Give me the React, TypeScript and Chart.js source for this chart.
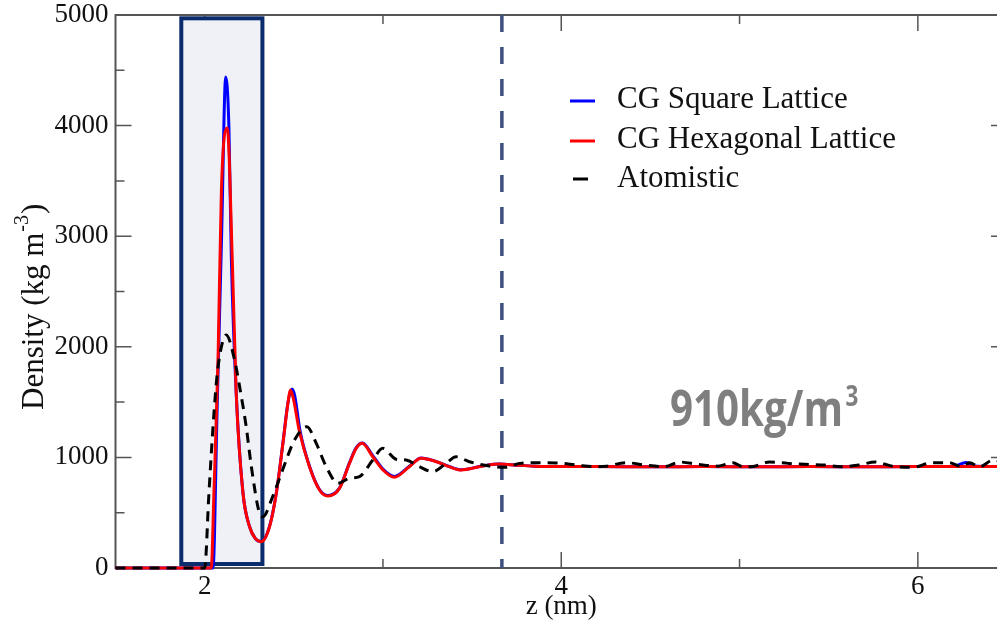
import React, { useEffect, useRef } from 'react';
import { Chart, registerables } from 'chart.js';

Chart.register(...registerables);

// ---- data (z in nm, density in kg m^-3) ----
const zSquare = [1.5, 2.0, 2.047, 2.07, 2.095, 2.118, 2.136, 2.15, 2.177, 2.215, 2.252, 2.285, 2.318, 2.364, 2.402, 2.439, 2.467, 2.49, 2.505, 2.535, 2.588, 2.644, 2.691, 2.756, 2.812, 2.85, 2.885, 2.945, 3.0, 3.064, 3.148, 3.214, 3.3, 3.372, 3.438, 3.56, 3.653, 3.75, 3.85, 3.95, 4.2, 4.5, 4.8, 5.1, 5.4, 5.7, 6.0, 6.2, 6.27, 6.33, 6.5];
const densSquare = [0, 0, 0, 1440, 3000, 4440, 3990, 2785, 1582, 678, 373, 265, 240, 378, 680, 1130, 1492, 1618, 1560, 1240, 920, 710, 655, 722, 950, 1088, 1130, 1012, 895, 828, 920, 995, 962, 918, 888, 924, 940, 930, 921, 917, 917, 916, 917, 916, 917, 916, 917, 918, 955, 920, 918];

const zHex = [1.5, 2.0, 2.037, 2.052, 2.075, 2.094, 2.127, 2.155, 2.177, 2.215, 2.252, 2.285, 2.318, 2.364, 2.402, 2.439, 2.467, 2.48, 2.495, 2.532, 2.588, 2.644, 2.691, 2.756, 2.812, 2.85, 2.883, 2.943, 3.0, 3.064, 3.148, 3.214, 3.3, 3.372, 3.438, 3.56, 3.653, 3.75, 3.85, 3.95, 4.2, 4.5, 4.8, 5.1, 5.4, 5.7, 6.0, 6.3, 6.5];
const densHex = [0, 0, 0, 678, 1880, 3418, 3978, 2785, 1582, 678, 373, 265, 238, 373, 675, 1127, 1489, 1609, 1549, 1232, 916, 705, 651, 720, 946, 1082, 1127, 1006, 886, 820, 916, 992, 961, 916, 886, 922, 940, 930, 921, 917, 917, 916, 917, 916, 917, 916, 917, 917, 918];

const zAtom = [1.5, 2.0, 2.024, 2.047, 2.069, 2.094, 2.121, 2.168, 2.196, 2.233, 2.262, 2.308, 2.327, 2.38, 2.437, 2.504, 2.573, 2.626, 2.682, 2.747, 2.812, 2.868, 2.943, 2.999, 3.074, 3.13, 3.204, 3.279, 3.354, 3.41, 3.485, 3.597, 3.69, 3.767, 3.883, 3.976, 4.088, 4.187, 4.253, 4.365, 4.468, 4.58, 4.664, 4.767, 4.879, 4.963, 5.019, 5.066, 5.169, 5.272, 5.365, 5.477, 5.571, 5.668, 5.762, 5.855, 5.973, 6.076, 6.173, 6.247, 6.29, 6.347, 6.421, 6.5];
const densAtom = [0, 0, 675, 1278, 1730, 2000, 2107, 1880, 1640, 1278, 916, 494, 464, 640, 886, 1157, 1278, 1127, 916, 766, 811, 826, 976, 1082, 983, 976, 916, 871, 946, 1006, 961, 922, 910, 946, 952, 950, 931, 916, 921, 952, 931, 916, 958, 937, 921, 952, 916, 916, 958, 946, 937, 931, 916, 931, 958, 921, 910, 952, 952, 916, 952, 916, 975, 940];

const seriesNames = ['CG Square Lattice', 'CG Hexagonal Lattice', 'Atomistic'];
const seriesColors = ['#0000ff', '#ff0000', '#000000'];

const xMajorTicks = [2, 4, 6];
const xMinorTicks = [3, 5];
const yMajorTicks = [0, 1000, 2000, 3000, 4000, 5000];
const yMinorTicks = [500, 1500, 2500, 3500, 4500];

const xTitle = 'z (nm)';
const yTitleMain = 'Density (kg m';
const yTitleSup = '-3';
const yTitleEnd = ')';

const boxZ = [1.869, 2.324];
const boxDensity = [36, 4970];
const cutoffZ = 3.667;
const bulkLabel = '910kg/m';
const bulkLabelSup = '3';

const SERIF = '"Liberation Serif", "Times New Roman", serif';

const pts = (zs: number[], ds: number[]) => zs.map((z, i) => ({ x: z, y: ds[i] }));

const decorPlugin = {
  id: 'decor',
  beforeDatasetsDraw(chart: any) {
    const { ctx, chartArea: a, scales } = chart;
    const x = scales.x, y = scales.y;
    ctx.save();
    ctx.strokeStyle = '#555';
    ctx.lineWidth = 2;
    ctx.strokeRect(a.left, a.top, a.right - a.left, a.bottom - a.top);
    const tick = (px: number, len: number, vertical: boolean) => {
      ctx.beginPath();
      if (vertical) {
        ctx.moveTo(px, a.bottom); ctx.lineTo(px, a.bottom - len);
        ctx.moveTo(px, a.top); ctx.lineTo(px, a.top + len);
      } else {
        ctx.moveTo(a.left, px); ctx.lineTo(a.left + len, px);
        ctx.moveTo(a.right, px); ctx.lineTo(a.right - len, px);
      }
      ctx.stroke();
    };
    ctx.lineWidth = 1.5;
    xMajorTicks.forEach(v => tick(x.getPixelForValue(v), 16, true));
    xMinorTicks.forEach(v => tick(x.getPixelForValue(v), 9, true));
    yMajorTicks.forEach(v => tick(y.getPixelForValue(v), 16, false));
    yMinorTicks.forEach(v => tick(y.getPixelForValue(v), 9, false));

    const bl = x.getPixelForValue(boxZ[0]);
    const br = x.getPixelForValue(boxZ[1]);
    const bt = y.getPixelForValue(boxDensity[1]);
    const bb = y.getPixelForValue(boxDensity[0]);
    ctx.fillStyle = '#eff1f7';
    ctx.fillRect(bl, bt, br - bl, bb - bt);
    ctx.strokeStyle = '#0b2c6c';
    ctx.lineWidth = 4;
    ctx.strokeRect(bl, bt, br - bl, bb - bt);

    const cx = x.getPixelForValue(cutoffZ);
    ctx.strokeStyle = '#3d5080';
    ctx.lineWidth = 3.5;
    ctx.setLineDash([17, 15]);
    ctx.beginPath();
    ctx.moveTo(cx, a.top);
    ctx.lineTo(cx, a.bottom);
    ctx.stroke();
    ctx.restore();
  },
  afterDatasetsDraw(chart: any) {
    const { ctx } = chart;
    ctx.save();
    ctx.font = '31px ' + SERIF;
    ctx.fillStyle = '#111';
    ctx.textAlign = 'left';
    ctx.textBaseline = 'alphabetic';
    const rows = [101, 141, 179];
    const bases = [108, 148, 187];
    seriesNames.forEach((n, i) => {
      ctx.strokeStyle = seriesColors[i];
      ctx.lineWidth = 3;
      ctx.beginPath();
      if (i < 2) { ctx.moveTo(570, rows[i]); ctx.lineTo(595, rows[i]); }
      else { ctx.moveTo(573, rows[i]); ctx.lineTo(588, rows[i]); }
      ctx.stroke();
      ctx.fillText(n, 617, bases[i]);
    });

    ctx.save();
    ctx.translate(43, 410);
    ctx.rotate(-Math.PI / 2);
    ctx.font = '31px ' + SERIF;
    ctx.fillStyle = '#111';
    ctx.fillText(yTitleMain, 0, 0);
    let w = ctx.measureText(yTitleMain).width;
    ctx.font = '20px ' + SERIF;
    ctx.fillText(yTitleSup, w + 1, -15);
    w += ctx.measureText(yTitleSup).width + 2;
    ctx.font = '31px ' + SERIF;
    ctx.fillText(yTitleEnd, w, 0);
    ctx.restore();

    ctx.save();
    ctx.fillStyle = '#7f7f7f';
    ctx.font = 'bold 50px "Open Sans", "Noto Sans", sans-serif';
    const mw = ctx.measureText(bulkLabel).width;
    const sx = 173 / mw;
    ctx.translate(670, 426);
    ctx.scale(sx, 1);
    ctx.fillText(bulkLabel, 0, 0);
    ctx.font = 'bold 28px "Open Sans", "Noto Sans", sans-serif';
    ctx.fillText(bulkLabelSup, mw + 3, -20);
    ctx.restore();

    ctx.restore();
  },
};

export default function App() {
  const ref = useRef<HTMLCanvasElement>(null);
  useEffect(() => {
    if (!ref.current) return;
    const tickFont = { family: SERIF, size: 27 };
    const chart = new Chart(ref.current, {
      type: 'line',
      data: {
        datasets: [
          { label: seriesNames[0], data: pts(zSquare, densSquare), borderColor: seriesColors[0], borderWidth: 3, pointRadius: 0, cubicInterpolationMode: 'monotone', fill: false, clip: false, order: 2 } as any,
          { label: seriesNames[1], data: pts(zHex, densHex), borderColor: seriesColors[1], borderWidth: 3, pointRadius: 0, cubicInterpolationMode: 'monotone', fill: false, clip: false, order: 1 } as any,
          { label: seriesNames[2], data: pts(zAtom, densAtom), borderColor: seriesColors[2], borderWidth: 3, borderDash: [10, 7], pointRadius: 0, cubicInterpolationMode: 'monotone', fill: false, clip: false, order: 0 } as any,
        ],
      },
      options: {
        animation: false,
        responsive: false,
        devicePixelRatio: 1,
        parsing: false as any,
        layout: { padding: { left: 0, top: 15, right: 5, bottom: 0 } },
        plugins: { legend: { display: false }, tooltip: { enabled: false }, title: { display: false } },
        scales: {
          x: {
            type: 'linear',
            min: 1.5,
            max: 6.5,
            afterBuildTicks: (s: any) => { s.ticks = xMajorTicks.map(v => ({ value: v })); },
            afterFit: (s: any) => { s.height = 61; s.paddingLeft = 0; s.paddingRight = 0; },
            grid: { display: false, drawTicks: false },
            border: { display: false },
            ticks: { font: tickFont, color: '#111', padding: 3, maxRotation: 0, autoSkip: false, callback: (v: any) => String(v) },
            title: { display: true, text: xTitle, font: tickFont, color: '#111', padding: { top: 0, bottom: 6 } },
          },
          y: {
            type: 'linear',
            min: 0,
            max: 5000,
            afterBuildTicks: (s: any) => { s.ticks = yMajorTicks.map(v => ({ value: v })); },
            afterFit: (s: any) => { s.width = 115.5; s.paddingTop = 0; s.paddingBottom = 0; },
            grid: { display: false, drawTicks: false },
            border: { display: false },
            ticks: { font: tickFont, color: '#111', padding: 7, autoSkip: false, callback: (v: any) => String(v) },
          },
        },
      } as any,
      plugins: [decorPlugin],
    });
    return () => chart.destroy();
  }, []);
  return (
    <div style={{ position: 'fixed', left: 0, top: 0, width: 1012, height: 629, background: '#fff', overflow: 'hidden' }}>
      <canvas ref={ref} width={1012} height={629} style={{ display: 'block', width: 1012, height: 629 }} />
    </div>
  );
}
